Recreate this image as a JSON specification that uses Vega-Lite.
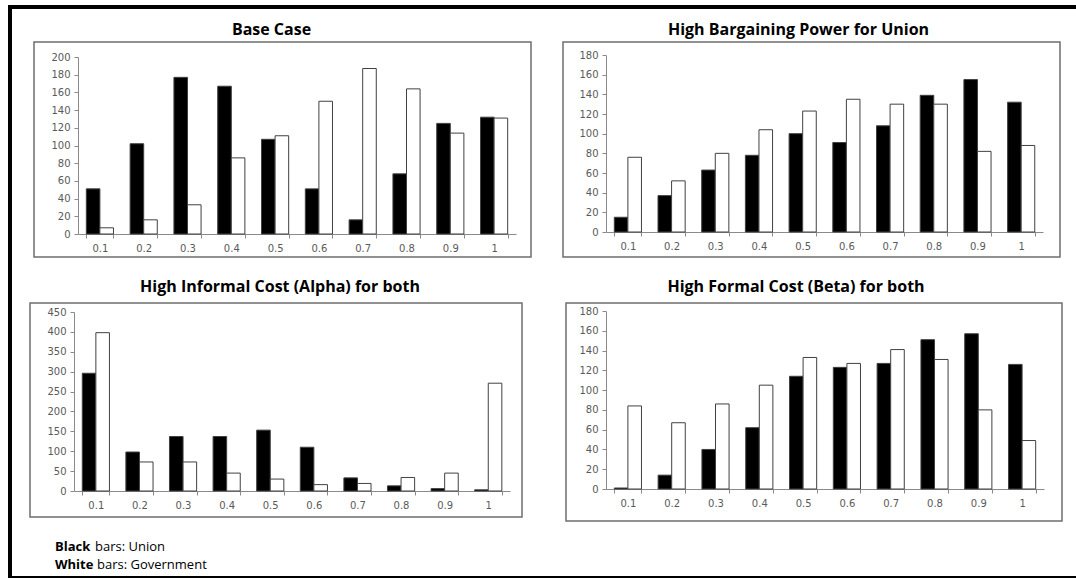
{
  "$schema": "https://vega.github.io/schema/vega-lite/v6.json",
  "background": "white",
  "padding": {"left": 8, "top": 5, "right": 0, "bottom": 0},
  "spacing": 0,
  "config": {
    "view": {"stroke": null},
    "concat": {"spacing": 0},
    "title": {"font": "Open Sans", "fontWeight": "bold", "fontSize": 16, "color": "#000000", "offset": 4, "anchor": "middle"},
    "axis": {"grid": false, "domainColor": "#8a8a8a", "tickColor": "#8a8a8a", "tickSize": 4, "labelColor": "#5a5a5a", "labelFont": "DejaVu Sans", "labelFontSize": 10, "domainWidth": 1, "tickWidth": 1, "labelOverlap": false}
  },
  "datasets": {
    "bars": [
      {"panel": "base", "x": "0.1", "series": "Union", "value": 51},
      {"panel": "base", "x": "0.1", "series": "Government", "value": 7},
      {"panel": "base", "x": "0.2", "series": "Union", "value": 102},
      {"panel": "base", "x": "0.2", "series": "Government", "value": 16},
      {"panel": "base", "x": "0.3", "series": "Union", "value": 177},
      {"panel": "base", "x": "0.3", "series": "Government", "value": 33},
      {"panel": "base", "x": "0.4", "series": "Union", "value": 167},
      {"panel": "base", "x": "0.4", "series": "Government", "value": 86},
      {"panel": "base", "x": "0.5", "series": "Union", "value": 107},
      {"panel": "base", "x": "0.5", "series": "Government", "value": 111},
      {"panel": "base", "x": "0.6", "series": "Union", "value": 51},
      {"panel": "base", "x": "0.6", "series": "Government", "value": 150},
      {"panel": "base", "x": "0.7", "series": "Union", "value": 16},
      {"panel": "base", "x": "0.7", "series": "Government", "value": 187},
      {"panel": "base", "x": "0.8", "series": "Union", "value": 68},
      {"panel": "base", "x": "0.8", "series": "Government", "value": 164},
      {"panel": "base", "x": "0.9", "series": "Union", "value": 125},
      {"panel": "base", "x": "0.9", "series": "Government", "value": 114},
      {"panel": "base", "x": "1", "series": "Union", "value": 132},
      {"panel": "base", "x": "1", "series": "Government", "value": 131},
      {"panel": "bargain", "x": "0.1", "series": "Union", "value": 15},
      {"panel": "bargain", "x": "0.1", "series": "Government", "value": 76},
      {"panel": "bargain", "x": "0.2", "series": "Union", "value": 37},
      {"panel": "bargain", "x": "0.2", "series": "Government", "value": 52},
      {"panel": "bargain", "x": "0.3", "series": "Union", "value": 63},
      {"panel": "bargain", "x": "0.3", "series": "Government", "value": 80},
      {"panel": "bargain", "x": "0.4", "series": "Union", "value": 78},
      {"panel": "bargain", "x": "0.4", "series": "Government", "value": 104},
      {"panel": "bargain", "x": "0.5", "series": "Union", "value": 100},
      {"panel": "bargain", "x": "0.5", "series": "Government", "value": 123},
      {"panel": "bargain", "x": "0.6", "series": "Union", "value": 91},
      {"panel": "bargain", "x": "0.6", "series": "Government", "value": 135},
      {"panel": "bargain", "x": "0.7", "series": "Union", "value": 108},
      {"panel": "bargain", "x": "0.7", "series": "Government", "value": 130},
      {"panel": "bargain", "x": "0.8", "series": "Union", "value": 139},
      {"panel": "bargain", "x": "0.8", "series": "Government", "value": 130},
      {"panel": "bargain", "x": "0.9", "series": "Union", "value": 155},
      {"panel": "bargain", "x": "0.9", "series": "Government", "value": 82},
      {"panel": "bargain", "x": "1", "series": "Union", "value": 132},
      {"panel": "bargain", "x": "1", "series": "Government", "value": 88},
      {"panel": "informal", "x": "0.1", "series": "Union", "value": 296},
      {"panel": "informal", "x": "0.1", "series": "Government", "value": 398},
      {"panel": "informal", "x": "0.2", "series": "Union", "value": 98},
      {"panel": "informal", "x": "0.2", "series": "Government", "value": 73},
      {"panel": "informal", "x": "0.3", "series": "Union", "value": 137},
      {"panel": "informal", "x": "0.3", "series": "Government", "value": 73},
      {"panel": "informal", "x": "0.4", "series": "Union", "value": 137},
      {"panel": "informal", "x": "0.4", "series": "Government", "value": 45},
      {"panel": "informal", "x": "0.5", "series": "Union", "value": 153},
      {"panel": "informal", "x": "0.5", "series": "Government", "value": 30},
      {"panel": "informal", "x": "0.6", "series": "Union", "value": 110},
      {"panel": "informal", "x": "0.6", "series": "Government", "value": 16},
      {"panel": "informal", "x": "0.7", "series": "Union", "value": 33},
      {"panel": "informal", "x": "0.7", "series": "Government", "value": 19},
      {"panel": "informal", "x": "0.8", "series": "Union", "value": 13},
      {"panel": "informal", "x": "0.8", "series": "Government", "value": 34},
      {"panel": "informal", "x": "0.9", "series": "Union", "value": 6},
      {"panel": "informal", "x": "0.9", "series": "Government", "value": 45},
      {"panel": "informal", "x": "1", "series": "Union", "value": 3},
      {"panel": "informal", "x": "1", "series": "Government", "value": 271},
      {"panel": "formal", "x": "0.1", "series": "Union", "value": 1},
      {"panel": "formal", "x": "0.1", "series": "Government", "value": 84},
      {"panel": "formal", "x": "0.2", "series": "Union", "value": 14},
      {"panel": "formal", "x": "0.2", "series": "Government", "value": 67},
      {"panel": "formal", "x": "0.3", "series": "Union", "value": 40},
      {"panel": "formal", "x": "0.3", "series": "Government", "value": 86},
      {"panel": "formal", "x": "0.4", "series": "Union", "value": 62},
      {"panel": "formal", "x": "0.4", "series": "Government", "value": 105},
      {"panel": "formal", "x": "0.5", "series": "Union", "value": 114},
      {"panel": "formal", "x": "0.5", "series": "Government", "value": 133},
      {"panel": "formal", "x": "0.6", "series": "Union", "value": 123},
      {"panel": "formal", "x": "0.6", "series": "Government", "value": 127},
      {"panel": "formal", "x": "0.7", "series": "Union", "value": 127},
      {"panel": "formal", "x": "0.7", "series": "Government", "value": 141},
      {"panel": "formal", "x": "0.8", "series": "Union", "value": 151},
      {"panel": "formal", "x": "0.8", "series": "Government", "value": 131},
      {"panel": "formal", "x": "0.9", "series": "Union", "value": 157},
      {"panel": "formal", "x": "0.9", "series": "Government", "value": 80},
      {"panel": "formal", "x": "1", "series": "Union", "value": 126},
      {"panel": "formal", "x": "1", "series": "Government", "value": 49}
    ],
    "legendText": [
      {"key": "Black", "rest": "bars: Union"},
      {"key": "White", "rest": "bars: Government"}
    ],
    "none": []
  },
  "vconcat": [
    {"width": 1068, "height": 4, "data": {"name": "none"}, "mark": "rule", "encoding": {}, "view": {"fill": "#000000", "stroke": null}},
    {
      "spacing": 13,
      "hconcat": [
        {"width": 4, "height": 567, "data": {"name": "none"}, "mark": "rule", "encoding": {}, "view": {"fill": "#000000", "stroke": null}},
        {
          "spacing": 0,
          "vconcat": [
            {"width": 10, "height": 12, "data": {"name": "none"}, "mark": "rule", "encoding": {}},
            {
              "spacing": 0,
              "hconcat": [
                {"width": 8, "height": 10, "data": {"name": "none"}, "mark": "rule", "encoding": {}},
                {
                  "width": 497, "height": 215,
                  "title": {"text": "Base Case", "dx": -11},
                  "data": {"name": "bars"},
                  "transform": [{"filter": "datum.panel === 'base'"}],
                  "mark": {"type": "bar", "stroke": "#404040", "strokeWidth": 1},
                  "encoding": {
                    "x": {"field": "x", "type": "ordinal", "sort": ["0.1","0.2","0.3","0.4","0.5","0.6","0.7","0.8","0.9","1"], "scale": {"range": [44, 482], "paddingInner": 0.38, "paddingOuter": 0.19}, "axis": {"title": null, "labelAngle": 0, "tickBand": "extent", "offset": -23, "labelPadding": 5}},
                    "xOffset": {"field": "series", "sort": ["Union", "Government"]},
                    "y": {"field": "value", "type": "quantitative", "scale": {"domain": [0, 200], "range": [192, 15], "nice": false}, "axis": {"title": null, "values": [0,20,40,60,80,100,120,140,160,180,200], "offset": -44, "labelPadding": 4}},
                    "fill": {"field": "series", "scale": {"domain": ["Union", "Government"], "range": ["#000000", "#ffffff"]}, "legend": null}
                  },
                  "view": {"stroke": "#6e6e6e", "strokeWidth": 1.5}
                },
                {"width": 30, "height": 10, "data": {"name": "none"}, "mark": "rule", "encoding": {}},
                {
                  "width": 497, "height": 215,
                  "title": {"text": "High Bargaining Power for Union", "dx": -13},
                  "data": {"name": "bars"},
                  "transform": [{"filter": "datum.panel === 'bargain'"}],
                  "mark": {"type": "bar", "stroke": "#404040", "strokeWidth": 1},
                  "encoding": {
                    "x": {"field": "x", "type": "ordinal", "sort": ["0.1","0.2","0.3","0.4","0.5","0.6","0.7","0.8","0.9","1"], "scale": {"range": [43, 480], "paddingInner": 0.38, "paddingOuter": 0.19}, "axis": {"title": null, "labelAngle": 0, "tickBand": "extent", "offset": -25, "labelPadding": 5}},
                    "xOffset": {"field": "series", "sort": ["Union", "Government"]},
                    "y": {"field": "value", "type": "quantitative", "scale": {"domain": [0, 180], "range": [190, 13], "nice": false}, "axis": {"title": null, "values": [0,20,40,60,80,100,120,140,160,180], "offset": -43, "labelPadding": 4}},
                    "fill": {"field": "series", "scale": {"domain": ["Union", "Government"], "range": ["#000000", "#ffffff"]}, "legend": null}
                  },
                  "view": {"stroke": "#6e6e6e", "strokeWidth": 1.5}
                }
              ]
            },
            {"width": 10, "height": 20, "data": {"name": "none"}, "mark": "rule", "encoding": {}},
            {
              "spacing": 0,
              "hconcat": [
                {"width": 4, "height": 10, "data": {"name": "none"}, "mark": "rule", "encoding": {}},
                {
                  "width": 492, "height": 214,
                  "title": {"text": "High Informal Cost (Alpha) for both", "dx": 4, "offset": 8},
                  "data": {"name": "bars"},
                  "transform": [{"filter": "datum.panel === 'informal'"}],
                  "mark": {"type": "bar", "stroke": "#404040", "strokeWidth": 1},
                  "encoding": {
                    "x": {"field": "x", "type": "ordinal", "sort": ["0.1","0.2","0.3","0.4","0.5","0.6","0.7","0.8","0.9","1"], "scale": {"range": [44, 480], "paddingInner": 0.38, "paddingOuter": 0.19}, "axis": {"title": null, "labelAngle": 0, "tickBand": "extent", "offset": -26, "labelPadding": 5}},
                    "xOffset": {"field": "series", "sort": ["Union", "Government"]},
                    "y": {"field": "value", "type": "quantitative", "scale": {"domain": [0, 450], "range": [188, 9], "nice": false}, "axis": {"title": null, "values": [0,50,100,150,200,250,300,350,400,450], "offset": -44, "labelPadding": 4}},
                    "fill": {"field": "series", "scale": {"domain": ["Union", "Government"], "range": ["#000000", "#ffffff"]}, "legend": null}
                  },
                  "view": {"stroke": "#6e6e6e", "strokeWidth": 1.5}
                },
                {"width": 42, "height": 10, "data": {"name": "none"}, "mark": "rule", "encoding": {}},
                {
                  "width": 496, "height": 218,
                  "title": {"text": "High Formal Cost (Beta) for both", "dx": -18, "offset": 8},
                  "data": {"name": "bars"},
                  "transform": [{"filter": "datum.panel === 'formal'"}],
                  "mark": {"type": "bar", "stroke": "#404040", "strokeWidth": 1},
                  "encoding": {
                    "x": {"field": "x", "type": "ordinal", "sort": ["0.1","0.2","0.3","0.4","0.5","0.6","0.7","0.8","0.9","1"], "scale": {"range": [40, 478], "paddingInner": 0.38, "paddingOuter": 0.19}, "axis": {"title": null, "labelAngle": 0, "tickBand": "extent", "offset": -32, "labelPadding": 5}},
                    "xOffset": {"field": "series", "sort": ["Union", "Government"]},
                    "y": {"field": "value", "type": "quantitative", "scale": {"domain": [0, 180], "range": [186, 8], "nice": false}, "axis": {"title": null, "values": [0,20,40,60,80,100,120,140,160,180], "offset": -40, "labelPadding": 4}},
                    "fill": {"field": "series", "scale": {"domain": ["Union", "Government"], "range": ["#000000", "#ffffff"]}, "legend": null}
                  },
                  "view": {"stroke": "#6e6e6e", "strokeWidth": 1.5}
                }
              ]
            },
            {"width": 10, "height": 16, "data": {"name": "none"}, "mark": "rule", "encoding": {}},
            {
              "width": 300, "height": 36,
              "data": {"name": "legendText"},
              "encoding": {
                "y": {"field": "key", "type": "nominal", "sort": ["Black", "White"], "scale": {"type": "point", "padding": 0.5}, "axis": null}
              },
              "layer": [
                {"mark": {"type": "text", "font": "Open Sans", "fontSize": 13, "fontWeight": "bold", "align": "left", "baseline": "middle", "color": "#000000", "x": 30}, "encoding": {"text": {"field": "key"}}},
                {"transform": [{"filter": "datum.key === 'Black'"}], "mark": {"type": "text", "font": "Open Sans", "fontSize": 13, "align": "left", "baseline": "middle", "color": "#000000", "x": 30, "dx": 40}, "encoding": {"text": {"field": "rest"}}},
                {"transform": [{"filter": "datum.key === 'White'"}], "mark": {"type": "text", "font": "Open Sans", "fontSize": 13, "align": "left", "baseline": "middle", "color": "#000000", "x": 30, "dx": 42}, "encoding": {"text": {"field": "rest"}}}
              ]
            }
          ]
        }
      ]
    },
    {"width": 1068, "height": 2, "data": {"name": "none"}, "mark": "rule", "encoding": {}, "view": {"fill": "#000000", "stroke": null}}
  ]
}
